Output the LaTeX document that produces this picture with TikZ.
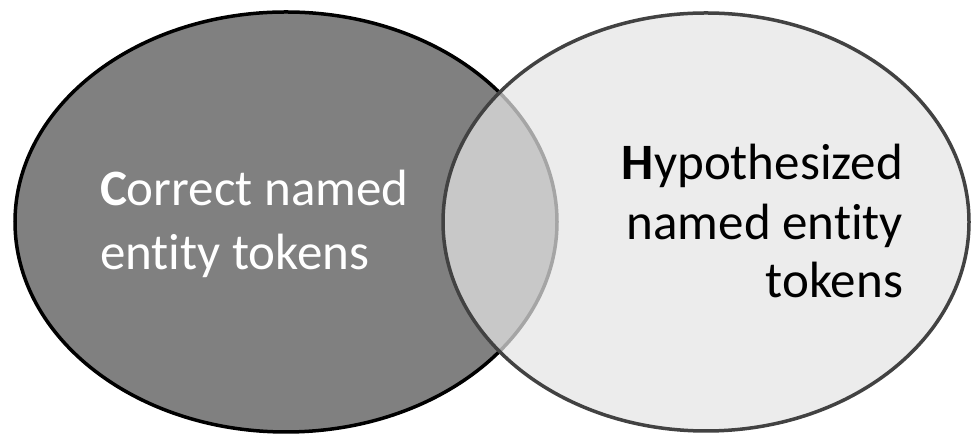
\documentclass[tikz,border=0pt]{standalone}
\usepackage{fontspec}
\setmainfont[Ligatures=NoCommon]{Carlito}
\definecolor{setdark}{HTML}{808080}
\definecolor{setlight}{HTML}{E5E5E5}
\definecolor{rimdark}{HTML}{424242}
\tikzset{
  label font/.style={font=\fontsize{51}{60}\selectfont, inner sep=0pt, outer sep=0pt},
  leftlabel/.style={label font, text=white, anchor=base west},
  rightlabel/.style={label font, text=black, anchor=base east},
}
\begin{document}
\begin{tikzpicture}[x=1pt,y=1pt]
  \useasboundingbox (0,0) rectangle (974,435);
  % set of correct tokens
  \fill[setdark] (286,213) ellipse [x radius=271, y radius=210];
  \draw[black, line width=3.5pt] (286,213) ellipse [x radius=271, y radius=210];
  % set of hypothesized tokens, translucent over the first set
  \fill[setlight, fill opacity=0.72] (706,213) ellipse [x radius=263, y radius=209];
  \draw[rimdark, line width=3.5pt] (706,213) ellipse [x radius=263, y radius=209];
  % labels
  \node[leftlabel] (c1) at (100,229) {\textbf{C}orrect named};
  \node[leftlabel] (c2) at (100,165) {entity tokens};
  \node[rightlabel] (h1) at (903,255) {\textbf{H}ypothesized};
  \node[rightlabel] (h2) at (903,195) {named entity};
  \node[rightlabel] (h3) at (903,137) {tokens};
\end{tikzpicture}
\end{document}
